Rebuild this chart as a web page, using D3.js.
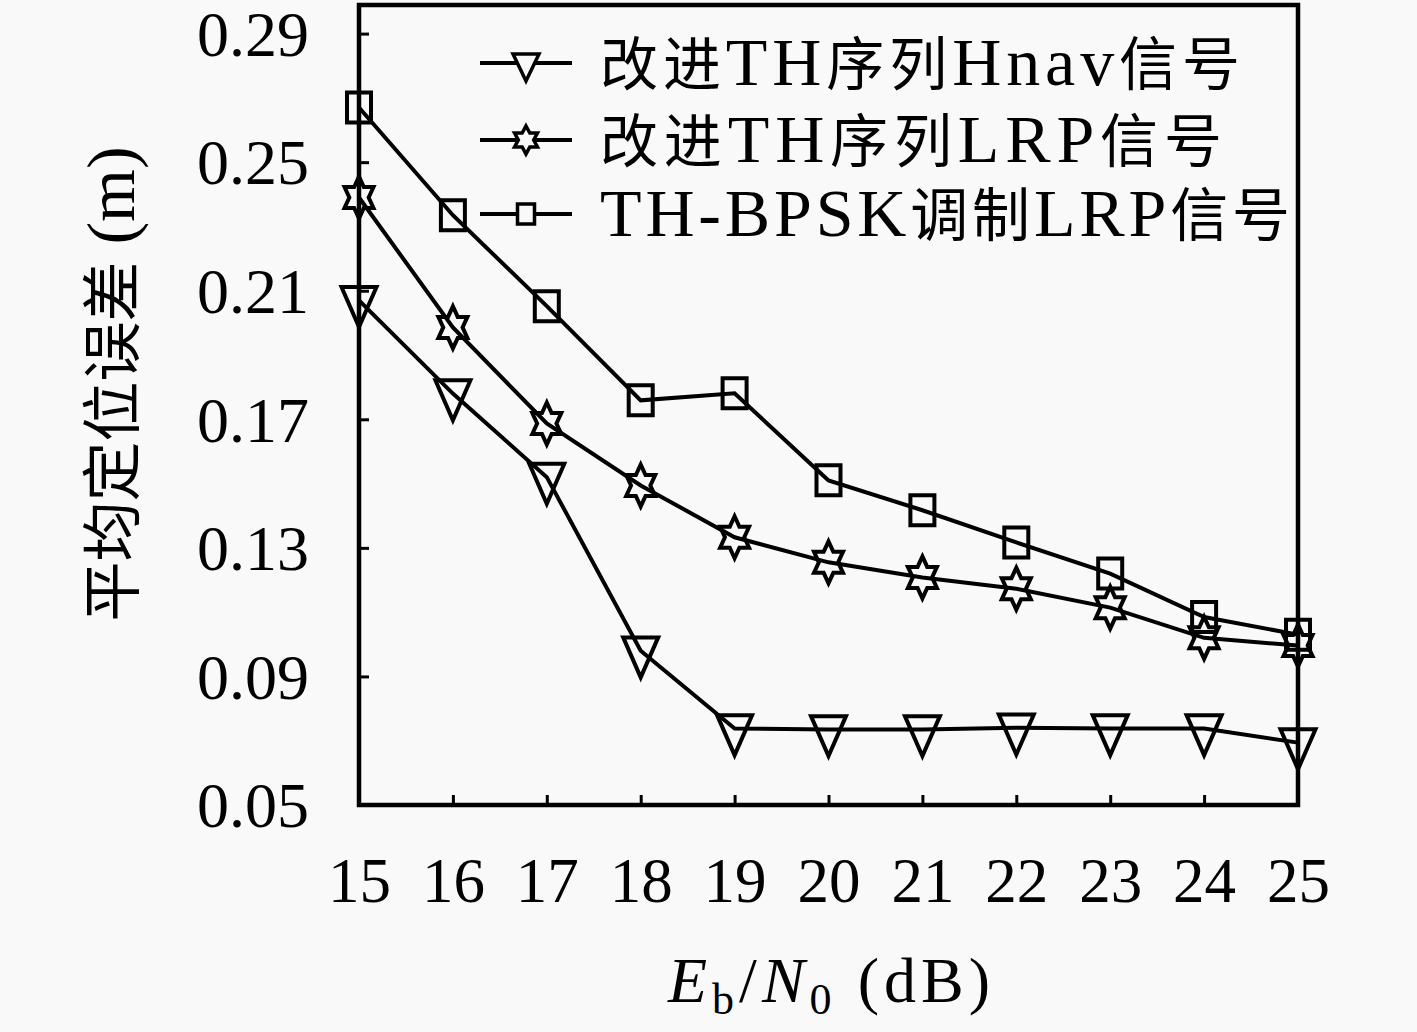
<!DOCTYPE html>
<html>
<head>
<meta charset="utf-8">
<script src="https://cdn.jsdelivr.net/npm/d3@7/dist/d3.min.js"></script>
<style>
  html, body { margin: 0; padding: 0; background: #f9f9f9; }
  svg { display: block; }
  text { fill: #000; }
</style>
</head>
<body>
<div id="chart"></div>
<script>
/** Data */
const snr = [15, 16, 17, 18, 19, 20, 21, 22, 23, 24, 25];
const hnavValues = [0.207, 0.178, 0.152, 0.098, 0.0738, 0.0735, 0.0735, 0.074, 0.0738, 0.0738, 0.0694];
const lrpValues = [0.239, 0.1986, 0.1687, 0.1494, 0.1333, 0.1255, 0.1208, 0.1173, 0.1114, 0.102, 0.0996];
const bpskValues = [0.267, 0.2335, 0.2052, 0.1759, 0.1781, 0.151, 0.1417, 0.1317, 0.122, 0.1085, 0.103];
const yTicks = [0.05, 0.09, 0.13, 0.17, 0.21, 0.25, 0.29];
const seriesNames = ["改进TH序列Hnav信号", "改进TH序列LRP信号", "TH-BPSK调制LRP信号"];
const yTitleCjk = "平均定位误差";
const yTitleUnit = " (m)";

/** Graph configs */
const width = 1417;
const height = 1032;
const plot = { left: 359, right: 1298, top: 5, bottom: 805 };
const latin = "'Liberation Serif', 'Times New Roman', serif";
const cjk = "'Noto Sans CJK SC', sans-serif";
const stroke = 4;

const svg = d3
  .select("#chart")
  .append("svg")
  .attr("width", width)
  .attr("height", height);

/** Scales */
const xScale = d3.scaleLinear().domain([15, 25]).range([plot.left, plot.right]);
const yScale = d3.scaleLinear().domain([0.05, 0.2989]).range([plot.bottom, plot.top]);

/** Marker shapes (taller than wide, like the original figure) */
const trianglePath = (w, h) =>
  `M${-w / 2},${-h / 3}L${w / 2},${-h / 3}L0,${(2 * h) / 3}Z`;
const squarePath = (w, h) => `M${-w / 2},${-h / 2}h${w}v${h}h${-w}Z`;
const hexagramPath = (w, h) => {
  const rx = w / Math.sqrt(3);
  const ry = h / 2;
  const pts = d3.range(12).map((i) => {
    const a = -Math.PI / 2 + (i * Math.PI) / 6;
    const k = i % 2 === 0 ? 1 : 1 / Math.sqrt(3);
    return [rx * k * Math.cos(a), ry * k * Math.sin(a)];
  });
  return "M" + pts.map((p) => p.join(",")).join("L") + "Z";
};

const series = [
  { name: seriesNames[0], values: hnavValues, marker: trianglePath(35, 40), legend: trianglePath(26, 27) },
  { name: seriesNames[1], values: lrpValues, marker: hexagramPath(29, 42), legend: hexagramPath(23, 28) },
  { name: seriesNames[2], values: bpskValues, marker: squarePath(24, 30), legend: squarePath(17, 20) },
];

/** Split a label into CJK / Latin runs so each gets its own font */
const splitRuns = (label) => label.match(/[\u4e00-\u9fff]+|[^\u4e00-\u9fff]+/g);
const isCjk = (run) => /[\u4e00-\u9fff]/.test(run);

/** Axes: inward ticks */
svg
  .append("g")
  .attr("transform", `translate(${plot.left},0)`)
  .call(d3.axisLeft(yScale).tickValues(yTicks).tickSize(-10).tickPadding(50).tickFormat(d3.format(".2f")))
  .call((g) => g.select(".domain").remove())
  .call((g) => g.selectAll("line").attr("stroke", "#000").attr("stroke-width", 3))
  .call((g) =>
    g.selectAll("text").attr("font-family", latin).attr("font-size", 64).attr("dy", "0.34em")
  );

svg
  .append("g")
  .attr("transform", `translate(0,${plot.bottom})`)
  .call(d3.axisBottom(xScale).tickValues(snr).tickSize(-10).tickPadding(52).tickFormat(d3.format("d")))
  .call((g) => g.select(".domain").remove())
  .call((g) => g.selectAll("line").attr("stroke", "#000").attr("stroke-width", 3))
  .call((g) => g.selectAll("text").attr("font-family", latin).attr("font-size", 63));

/** Plot frame */
svg
  .append("rect")
  .attr("x", plot.left)
  .attr("y", plot.top)
  .attr("width", plot.right - plot.left)
  .attr("height", plot.bottom - plot.top)
  .attr("fill", "none")
  .attr("stroke", "#000")
  .attr("stroke-width", 4.5);

/** Lines and markers */
const line = d3
  .line()
  .x((d, i) => xScale(snr[i]))
  .y((d) => yScale(d));

series.forEach((s) => {
  svg
    .append("path")
    .datum(s.values)
    .attr("d", line)
    .attr("fill", "none")
    .attr("stroke", "#000")
    .attr("stroke-width", stroke);

  svg
    .append("g")
    .selectAll("path")
    .data(s.values)
    .enter()
    .append("path")
    .attr("transform", (d, i) => `translate(${xScale(snr[i])},${yScale(d)})`)
    .attr("d", s.marker)
    .attr("fill", "none")
    .attr("stroke", "#000")
    .attr("stroke-width", stroke);
});

/** Legend */
const legendRows = [63, 140, 214];
const legendWidths = [640, 622, 690];
const legend = svg
  .append("g")
  .selectAll("g")
  .data(series)
  .enter()
  .append("g")
  .attr("transform", (d, i) => `translate(480,${legendRows[i]})`);

legend
  .append("line")
  .attr("x1", 0)
  .attr("x2", 92)
  .attr("stroke", "#000")
  .attr("stroke-width", stroke);

legend
  .append("path")
  .attr("transform", "translate(46,0)")
  .attr("d", (d) => d.legend)
  .attr("fill", "#f9f9f9")
  .attr("stroke", "#000")
  .attr("stroke-width", 3.5);

legend
  .append("text")
  .attr("x", 120)
  .attr("y", 22)
  .attr("textLength", (d, i) => legendWidths[i])
  .attr("lengthAdjust", "spacing")
  .each(function (d) {
    const t = d3.select(this);
    splitRuns(d.name).forEach((run) => {
      t.append("tspan")
        .attr("font-family", isCjk(run) ? cjk : latin)
        .attr("font-size", isCjk(run) ? 58 : 68)
        .text(run);
    });
  });

/** Axis titles */
const yTitle = svg
  .append("text")
  .attr("transform", `translate(134,384) rotate(-90)`)
  .attr("text-anchor", "middle");
yTitle.append("tspan").attr("font-family", cjk).attr("font-size", 60).text(yTitleCjk);
yTitle.append("tspan").attr("font-family", latin).attr("font-size", 68).text(yTitleUnit);

const xTitle = svg
  .append("text")
  .attr("x", 829)
  .attr("y", 1002)
  .attr("text-anchor", "middle")
  .attr("textLength", 322)
  .attr("lengthAdjust", "spacing")
  .attr("font-family", latin)
  .attr("font-size", 64);
xTitle.append("tspan").attr("font-style", "italic").text("E");
xTitle.append("tspan").attr("font-size", 44).attr("dy", 12).text("b");
xTitle.append("tspan").attr("dy", -12).text("/");
xTitle.append("tspan").attr("font-style", "italic").text("N");
xTitle.append("tspan").attr("font-size", 44).attr("dy", 12).text("0");
xTitle.append("tspan").attr("dy", -12).text(" (dB)");
</script>
</body>
</html>
